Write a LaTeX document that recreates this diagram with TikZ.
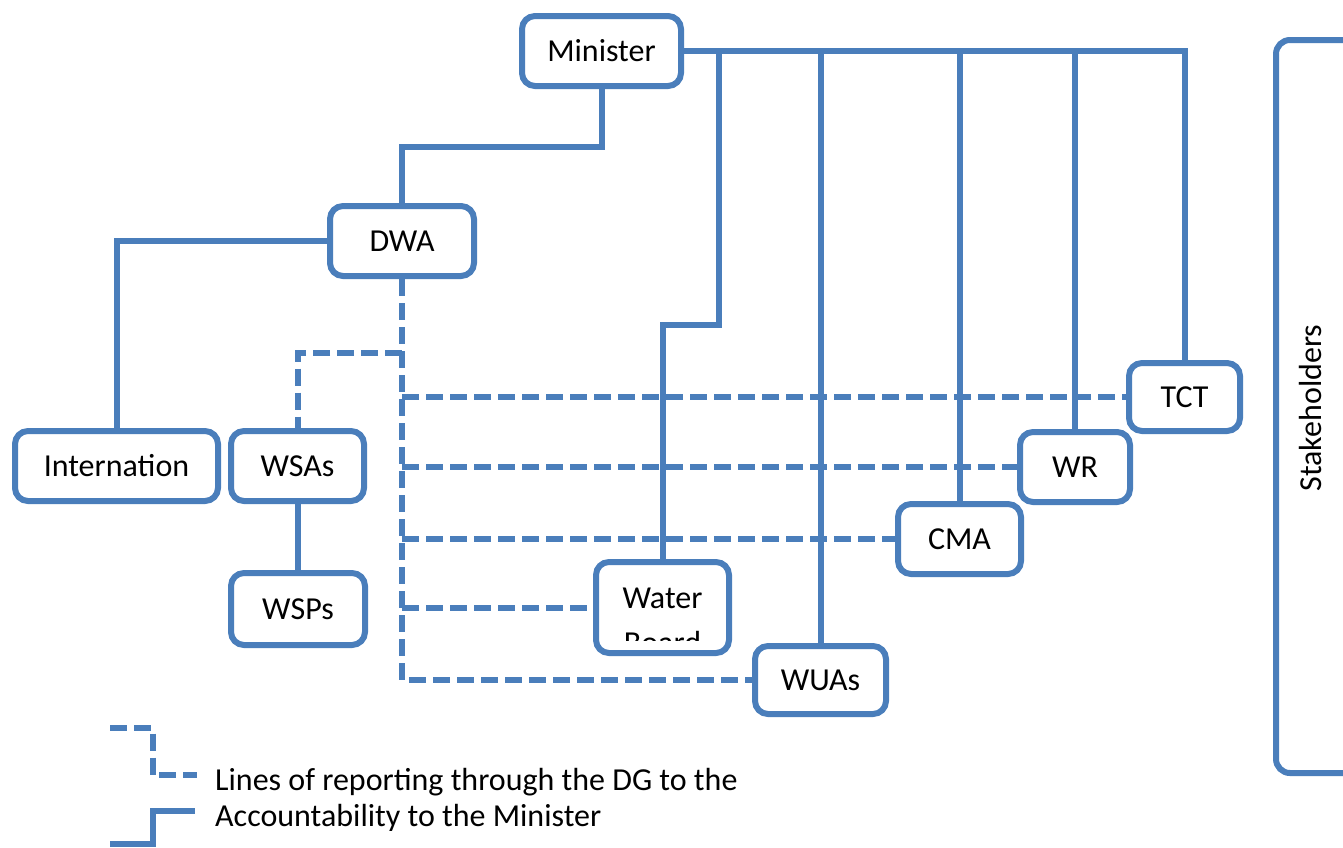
\documentclass[tikz,border=0pt]{standalone}
\usepackage{fontspec}
\setmainfont{Carlito}
\definecolor{orgblue}{RGB}{74,126,187}
\begin{document}
\begin{tikzpicture}[x=1pt,y=-1pt,
  box/.style={draw=orgblue, line width=6pt, rounded corners=13pt, fill=white, inner sep=0pt,
              font=\fontsize{32}{38}\selectfont, align=center},
  conn/.style={draw=orgblue, line width=6pt},
  rep/.style={conn, dash pattern=on 17pt off 7pt},
  lbl/.style={font=\fontsize{32}{38}\selectfont, inner sep=0pt}]
\useasboundingbox (0,0) rectangle (1343,847);
\clip (0,0) rectangle (1343,847);

% nodes
\node[box, minimum width=159pt, minimum height=70pt] (min) at (601.5,51) {Minister};
\node[box, minimum width=144pt, minimum height=70pt] (dwa) at (402,241) {DWA};
\node[box, minimum width=203pt, minimum height=70pt] (int) at (116.5,466) {Internation};
\node[box, minimum width=133pt, minimum height=70pt] (wsa) at (297.5,466) {WSAs};
\node[box, minimum width=134pt, minimum height=72pt] (wsp) at (298,609) {WSPs};
\node[box, minimum width=111pt, minimum height=68pt] (tct) at (1184.5,397) {TCT};
\node[box, minimum width=110pt, minimum height=70pt] (wr) at (1075,467) {WR};
\node[box, minimum width=123pt, minimum height=70pt] (cma) at (959.5,539) {CMA};
\node[box, minimum width=133pt, minimum height=91pt] (wb) at (662.5,607.5) {};
\node[box, minimum width=131pt, minimum height=68pt] (wua) at (820.5,680) {WUAs};
\node[box, minimum width=140pt, minimum height=733pt, rounded corners=14pt] (stk) at (1346,406.5) {};
\node[lbl, rotate=90] (stkt) at (1310,408) {Stakeholders};

\begin{scope}
  \clip (599,565) rectangle (726,640);
  \node[lbl, anchor=base] (wbt1) at (662.5,608) {Water};
  \node[lbl, anchor=base] (wbt2) at (662.5,653) {Board};
\end{scope}

% helper coordinates
\coordinate (mtop) at (0,147);
\coordinate (wbj) at (719,325);
\coordinate (wsj) at (0,353);

% accountability (solid)
\draw[conn] (min.east) -| (tct.north);
\draw[conn] (wr.north) -- (wr.north |- min.east);
\draw[conn] (cma.north) -- (cma.north |- min.east);
\draw[conn] (wua.north) -- (wua.north |- min.east);
\draw[conn] (wbj |- min.east) -- (wbj) -| (wb.north);
\draw[conn] (min.south) -- (min.south |- mtop) -| (dwa.north);
\draw[conn] (dwa.west) -| (int.north);
\draw[conn] (wsa.south) -- (wsa.south |- wsp.north);

% reporting (dashed)
\draw[rep] (dwa.south) |- (wua.west);
\draw[rep] (dwa.south |- tct.west) -- (tct.west);
\draw[rep] (dwa.south |- wr.west) -- (wr.west);
\draw[rep] (dwa.south |- cma.west) -- (cma.west);
\draw[rep] (dwa.south |- wb.west) -- (wb.west);
\draw[rep] (dwa.south |- wsj) -| (wsa.north);

% legend
\coordinate (ld1) at (110,728);
\coordinate (ld2) at (152.5,728);
\coordinate (ld3) at (152.5,775);
\coordinate (ld4) at (197,775);
\draw[rep] (ld1) -- (ld2) -- (ld3) -- (ld4);
\coordinate (ls1) at (110,844);
\coordinate (ls2) at (152.5,844);
\coordinate (ls3) at (152.5,811);
\coordinate (ls4) at (195,811);
\draw[conn] (ls1) -- (ls2) -- (ls3) -- (ls4);
\begin{scope}
  \clip (205,750) rectangle (800,830);
  \node[lbl, anchor=base west] (leg1) at (215,790) {Lines of reporting through the DG to the};
  \node[lbl, anchor=base west] (leg2) at (215,826) {Accountability to the Minister};
\end{scope}
\end{tikzpicture}
\end{document}
